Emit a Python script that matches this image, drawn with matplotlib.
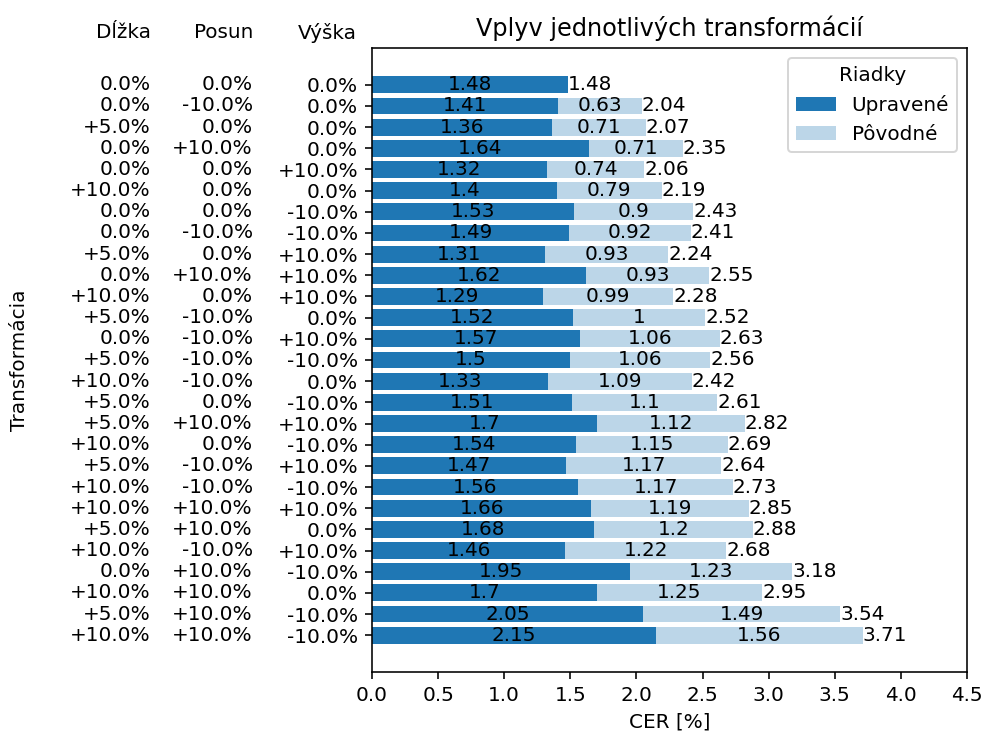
import matplotlib
matplotlib.use("Agg")
import matplotlib.pyplot as plt
import matplotlib.transforms as mtransforms

dlzka = ["0.0%", "0.0%", "+5.0%", "0.0%", "0.0%", "+10.0%", "0.0%", "0.0%", "+5.0%",
         "0.0%", "+10.0%", "+5.0%", "0.0%", "+5.0%", "+10.0%", "+5.0%", "+5.0%", "+10.0%",
         "+5.0%", "+10.0%", "+10.0%", "+5.0%", "+10.0%", "0.0%", "+10.0%", "+5.0%", "+10.0%"]
posun = ["0.0%", "-10.0%", "0.0%", "+10.0%", "0.0%", "0.0%", "0.0%", "-10.0%", "0.0%",
         "+10.0%", "0.0%", "-10.0%", "-10.0%", "-10.0%", "-10.0%", "0.0%", "+10.0%", "0.0%",
         "-10.0%", "-10.0%", "+10.0%", "+10.0%", "-10.0%", "+10.0%", "+10.0%", "+10.0%", "+10.0%"]
vyska = ["0.0%", "0.0%", "0.0%", "0.0%", "+10.0%", "0.0%", "-10.0%", "-10.0%", "+10.0%",
         "+10.0%", "+10.0%", "0.0%", "+10.0%", "-10.0%", "0.0%", "-10.0%", "+10.0%", "-10.0%",
         "+10.0%", "-10.0%", "+10.0%", "0.0%", "+10.0%", "-10.0%", "0.0%", "-10.0%", "-10.0%"]

upravene = [1.48, 1.41, 1.36, 1.64, 1.32, 1.4, 1.53, 1.49, 1.31, 1.62, 1.29, 1.52, 1.57, 1.5,
            1.33, 1.51, 1.7, 1.54, 1.47, 1.56, 1.66, 1.68, 1.46, 1.95, 1.7, 2.05, 2.15]
# extra error on original (non-adjusted) lines, stacked on top
povodne_diff = [0, 0.63, 0.71, 0.71, 0.74, 0.79, 0.9, 0.92, 0.93, 0.93, 0.99, 1, 1.06, 1.06,
                1.09, 1.1, 1.12, 1.15, 1.17, 1.17, 1.19, 1.2, 1.22, 1.23, 1.25, 1.49, 1.56]
povodne = [1.48, 2.04, 2.07, 2.35, 2.06, 2.19, 2.43, 2.41, 2.24, 2.55, 2.28, 2.52, 2.63, 2.56,
           2.42, 2.61, 2.82, 2.69, 2.64, 2.73, 2.85, 2.88, 2.68, 3.18, 2.95, 3.54, 3.71]

dpi = 144
fig = plt.figure(figsize=(986 / dpi, 733 / dpi), dpi=dpi)
ax = fig.add_axes([372 / 986, 1 - 672 / 733, (967 - 372) / 986, (672 - 48) / 733])

y = list(range(len(upravene)))
b1 = ax.barh(y, upravene, color="#1f77b4", label="Upravené")
b2 = ax.barh(y, povodne_diff, left=upravene, color="#bcd6e8", label="Pôvodné")
ax.bar_label(b1, labels=["%g" % v for v in upravene], label_type="center", fontsize=10)
ax.bar_label(b2, labels=["%g" % v if v > 0 else "" for v in povodne_diff],
             label_type="center", fontsize=10)
ax.bar_label(b2, labels=["%g" % v for v in povodne], label_type="edge", fontsize=10)

ax.invert_yaxis()
ax.set_xlim(0, 4.5)
ax.set_xticks([0, 0.5, 1, 1.5, 2, 2.5, 3, 3.5, 4, 4.5])
ax.set_yticks(y)
ax.set_yticklabels(vyska)
ax.set_xlabel("CER [%]")
ax.set_title("Vplyv jednotlivých transformácií", fontsize=12)

# extra label columns for the other two transformations
trans = mtransforms.blended_transform_factory(ax.transAxes, ax.transData)
off = mtransforms.ScaledTranslation(0, 0, fig.dpi_scale_trans)
for i in y:
    ax.text(-221 / 595, i, dlzka[i], transform=trans, ha="right", va="center", fontsize=10)
    ax.text(-119 / 595, i, posun[i], transform=trans, ha="right", va="center", fontsize=10)
for xpos, name in [(-221 / 595, "Dĺžka"), (-119 / 595, "Posun"), (-15 / 595, "Výška")]:
    ax.text(xpos, -2.45, name, transform=trans, ha="right", va="center", fontsize=10)

fig.text(20 / 986, 1 - 360 / 733, "Transformácia", rotation=90, ha="center", va="center",
         fontsize=10)

ax.legend(title="Riadky", loc="upper right")

fig.savefig("out.png", dpi=dpi)
